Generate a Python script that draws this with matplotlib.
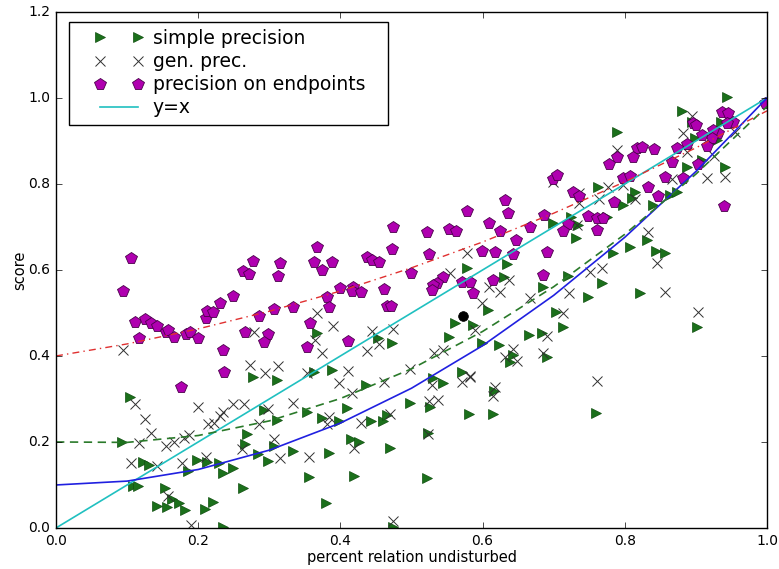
import numpy as np
import matplotlib
matplotlib.use("Agg")
import matplotlib.pyplot as plt
from matplotlib.lines import Line2D
from matplotlib.patches import Rectangle
from matplotlib.legend_handler import HandlerLine2D

# =============================================================================
# DATA
# =============================================================================
simple_x = [0.093, 0.104, 0.122, 0.131, 0.108, 0.115, 0.153, 0.163, 0.173, 0.142,
            0.156, 0.181, 0.210, 0.221, 0.186, 0.198, 0.212, 0.229, 0.235, 0.249,
            0.263, 0.269, 0.266, 0.235, 0.277, 0.292, 0.311, 0.311, 0.284, 0.298,
            0.306, 0.333, 0.367, 0.363, 0.388, 0.436, 0.453, 0.473, 0.353, 0.374,
            0.398, 0.409, 0.443, 0.460, 0.466, 0.498, 0.384, 0.415, 0.426, 0.470,
            0.356, 0.419, 0.380, 0.474, 0.699, 0.724, 0.734, 0.731, 0.578, 0.634,
            0.630, 0.685, 0.720, 0.748, 0.608, 0.561, 0.587, 0.553, 0.599, 0.623,
            0.665, 0.684, 0.703, 0.713, 0.643, 0.639, 0.691, 0.571, 0.530, 0.544,
            0.616, 0.526, 0.581, 0.615, 0.759, 0.523, 0.522, 0.944, 0.880, 0.789,
            0.895, 0.935, 0.899, 0.930, 0.909, 0.887, 0.941, 0.762, 0.814, 0.810,
            0.797, 0.840, 0.864, 0.873, 0.775, 0.831, 0.783, 0.807, 0.844, 0.857,
            0.768, 0.821, 0.901]
simple_y = [0.200, 0.305, 0.153, 0.147, 0.098, 0.098, 0.093, 0.067, 0.058, 0.051,
            0.049, 0.042, 0.044, 0.060, 0.133, 0.158, 0.153, 0.151, 0.128, 0.140,
            0.093, 0.219, 0.195, 0.002, 0.351, 0.274, 0.344, 0.251, 0.172, 0.156,
            0.191, 0.179, 0.453, 0.363, 0.367, 0.333, 0.442, 0.430, 0.270, 0.256,
            0.249, 0.279, 0.249, 0.249, 0.263, 0.291, 0.174, 0.207, 0.200, 0.186,
            0.119, 0.121, 0.058, 0.002, 0.709, 0.723, 0.705, 0.674, 0.605, 0.614,
            0.584, 0.560, 0.586, 0.537, 0.507, 0.477, 0.472, 0.444, 0.430, 0.426,
            0.449, 0.453, 0.502, 0.467, 0.402, 0.386, 0.398, 0.363, 0.349, 0.337,
            0.319, 0.281, 0.265, 0.265, 0.267, 0.221, 0.116, 1.002, 0.970, 0.921,
            0.944, 0.944, 0.907, 0.902, 0.856, 0.840, 0.840, 0.793, 0.781, 0.767,
            0.751, 0.751, 0.774, 0.781, 0.723, 0.670, 0.640, 0.653, 0.644, 0.640,
            0.570, 0.547, 0.467]

gen_x = [0.094, 0.111, 0.125, 0.134, 0.117, 0.105, 0.142, 0.155, 0.166, 0.180,
         0.187, 0.177, 0.200, 0.214, 0.222, 0.231, 0.235, 0.249, 0.264, 0.211,
         0.262, 0.158, 0.190, 0.273, 0.278, 0.294, 0.312, 0.298, 0.333, 0.286,
         0.307, 0.315, 0.367, 0.389, 0.364, 0.374, 0.444, 0.474, 0.454, 0.437,
         0.353, 0.411, 0.398, 0.416, 0.461, 0.498, 0.384, 0.381, 0.429, 0.470,
         0.356, 0.419, 0.474, 0.578, 0.554, 0.637, 0.609, 0.624, 0.599, 0.667,
         0.722, 0.751, 0.713, 0.589, 0.532, 0.544, 0.643, 0.632, 0.648, 0.685,
         0.690, 0.582, 0.733, 0.736, 0.571, 0.582, 0.529, 0.617, 0.615, 0.525,
         0.537, 0.523, 0.761, 0.894, 0.882, 0.789, 0.887, 0.925, 0.866, 0.916,
         0.941, 0.776, 0.797, 0.814, 0.764, 0.833, 0.845, 0.768, 0.857, 0.955,
         0.699, 0.736, 0.903]
gen_y = [0.414, 0.288, 0.253, 0.221, 0.198, 0.151, 0.144, 0.191, 0.200, 0.209,
         0.216, 0.151, 0.281, 0.242, 0.244, 0.260, 0.270, 0.288, 0.288, 0.165,
         0.184, 0.074, 0.007, 0.379, 0.456, 0.360, 0.377, 0.277, 0.291, 0.242,
         0.207, 0.163, 0.500, 0.470, 0.437, 0.407, 0.458, 0.463, 0.428, 0.412,
         0.360, 0.365, 0.337, 0.314, 0.340, 0.370, 0.258, 0.242, 0.244, 0.265,
         0.165, 0.186, 0.016, 0.640, 0.593, 0.577, 0.560, 0.549, 0.523, 0.535,
         0.547, 0.595, 0.500, 0.460, 0.407, 0.414, 0.416, 0.398, 0.388, 0.407,
         0.446, 0.353, 0.705, 0.779, 0.340, 0.351, 0.333, 0.328, 0.307, 0.295,
         0.298, 0.219, 0.342, 0.958, 0.919, 0.879, 0.874, 0.865, 0.812, 0.814,
         0.816, 0.793, 0.798, 0.765, 0.765, 0.688, 0.616, 0.605, 0.549, 0.921,
         0.805, 0.756, 0.502]

endp_x = [0.105, 0.094, 0.111, 0.125, 0.134, 0.142, 0.117, 0.155, 0.158, 0.166,
          0.183, 0.188, 0.200, 0.211, 0.212, 0.221, 0.231, 0.249, 0.263, 0.271,
          0.266, 0.235, 0.236, 0.176, 0.277, 0.315, 0.312, 0.286, 0.307, 0.298,
          0.293, 0.333, 0.367, 0.363, 0.388, 0.374, 0.474, 0.473, 0.437, 0.444,
          0.454, 0.499, 0.399, 0.418, 0.416, 0.429, 0.381, 0.384, 0.461, 0.466,
          0.471, 0.357, 0.353, 0.411, 0.632, 0.578, 0.636, 0.686, 0.727, 0.736,
          0.748, 0.761, 0.522, 0.553, 0.563, 0.609, 0.624, 0.667, 0.720, 0.713,
          0.761, 0.647, 0.525, 0.599, 0.617, 0.643, 0.691, 0.544, 0.536, 0.530,
          0.529, 0.571, 0.582, 0.615, 0.587, 0.685, 0.937, 0.945, 0.896, 0.900,
          0.952, 0.944, 0.997, 0.931, 0.924, 0.923, 0.909, 0.916, 0.887, 0.873,
          0.903, 0.866, 0.882, 0.857, 0.817, 0.824, 0.841, 0.812, 0.789, 0.778,
          0.797, 0.808, 0.833, 0.847, 0.785, 0.770, 0.940, 0.699, 0.705]
endp_y = [0.628, 0.551, 0.479, 0.486, 0.477, 0.470, 0.442, 0.456, 0.460, 0.444,
          0.451, 0.456, 0.442, 0.488, 0.505, 0.502, 0.523, 0.540, 0.598, 0.591,
          0.456, 0.414, 0.363, 0.328, 0.621, 0.616, 0.586, 0.493, 0.509, 0.451,
          0.432, 0.514, 0.653, 0.619, 0.619, 0.600, 0.700, 0.649, 0.630, 0.623,
          0.619, 0.593, 0.558, 0.560, 0.551, 0.549, 0.537, 0.514, 0.556, 0.516,
          0.516, 0.477, 0.421, 0.435, 0.763, 0.737, 0.733, 0.728, 0.781, 0.772,
          0.726, 0.721, 0.688, 0.695, 0.691, 0.709, 0.691, 0.700, 0.707, 0.691,
          0.693, 0.670, 0.637, 0.644, 0.642, 0.637, 0.642, 0.584, 0.570, 0.565,
          0.553, 0.572, 0.572, 0.577, 0.547, 0.588, 0.967, 0.965, 0.942, 0.937,
          0.944, 0.942, 0.988, 0.919, 0.926, 0.907, 0.914, 0.888, 0.893, 0.884,
          0.847, 0.851, 0.814, 0.816, 0.884, 0.886, 0.881, 0.863, 0.863, 0.847,
          0.814, 0.819, 0.793, 0.772, 0.758, 0.721, 0.749, 0.812, 0.821]

# fitted curves, read at x = 0.0, 0.1, ..., 1.0
fit_x = [0.0, 0.1, 0.2, 0.3, 0.4, 0.5, 0.6, 0.7, 0.8, 0.9, 1.0]
fit_simple = [0.100, 0.109, 0.136, 0.181, 0.244, 0.325, 0.424, 0.541, 0.676, 0.829, 1.000]
fit_gen = [0.200, 0.199, 0.215, 0.249, 0.301, 0.370, 0.457, 0.561, 0.683, 0.823, 0.980]
fit_endp = [0.400, 0.428, 0.463, 0.504, 0.551, 0.605, 0.665, 0.732, 0.805, 0.884, 0.970]

diag = [0.0, 1.0]
black_dot = (0.573, 0.493)

# =============================================================================
# PLOT
# =============================================================================
plt.style.use('classic')
fig = plt.figure(figsize=(7.79, 5.69), dpi=100, facecolor='white')
ax = fig.add_axes([0.0719, 0.0721, 0.9127, 0.9069])

ax.plot(simple_x, simple_y, linestyle='none', marker='>', color='#1b701b',
        mec='#0f4f0f', mew=0.5, ms=7, label='simple precision')
ax.plot(gen_x, gen_y, linestyle='none', marker='x', color='#303030',
        mew=0.7, ms=7, label='gen. prec.')
ax.plot(endp_x, endp_y, linestyle='none', marker='p', color='#b000b0',
        mec='#4a004a', mew=0.6, ms=8.5, label='precision on endpoints')
ax.plot(diag, diag, color='#20c0c0', lw=1.2, label='y=x')

ax.plot(fit_x, fit_simple, color='#2020e0', lw=1.2)
ax.plot(fit_x, fit_gen, color='#2a7a2a', lw=1.2, linestyle='--', dashes=(6, 4))
ax.plot(fit_x, fit_endp, color='#e03030', lw=1.0, linestyle='-.', dashes=(5, 3, 1, 3))
ax.plot([black_dot[0]], [black_dot[1]], 'ko', ms=7)

ax.set_xlim(0, 1.0)
ax.set_ylim(0, 1.2)
ax.set_xticks(np.arange(0, 1.01, 0.2))
ax.set_yticks(np.arange(0, 1.21, 0.2))
ax.tick_params(labelsize=10)
ax.set_xlabel('percent relation undisturbed', fontsize=10.5, labelpad=2)
ax.set_ylabel('score', fontsize=10.5, labelpad=1)

# legend frame drawn by hand (wide side padding like the old style)
ax.add_patch(Rectangle((0.0183, 0.781), 0.4487, 0.1996, transform=ax.transAxes,
                       facecolor='white', edgecolor='black', lw=1.0, zorder=4.9))
ax.legend(loc='upper left', bbox_to_anchor=(0.0619, 0.967), frameon=False,
          fontsize=13.5, borderpad=0, borderaxespad=0, handlelength=2.0,
          handletextpad=0.8, labelspacing=0.22,
          handler_map={Line2D: HandlerLine2D(marker_pad=0, numpoints=2)})

fig.savefig('out.png', dpi=100, facecolor='white')
